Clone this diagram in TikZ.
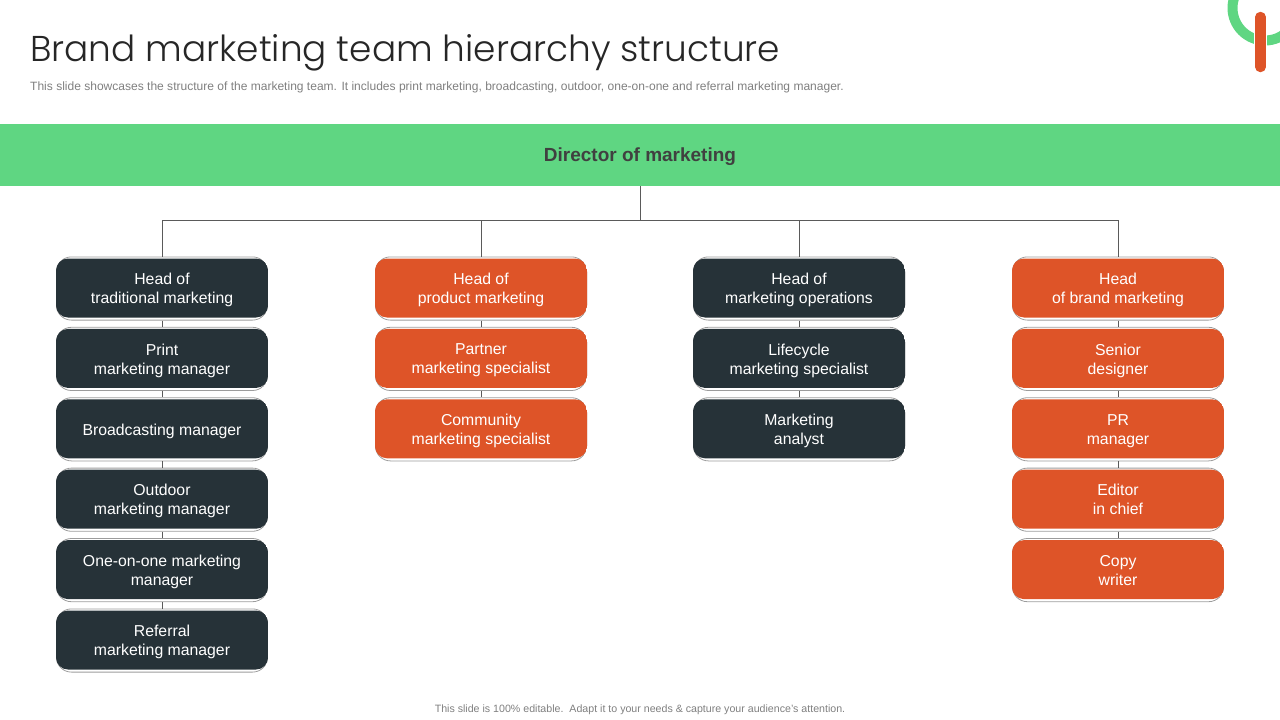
\documentclass[tikz,border=0pt]{standalone}
\usepackage{fontspec}
\setmainfont{Liberation Sans}
\newfontfamily\titlefont{Poppins Light}
\usetikzlibrary{positioning}
\definecolor{brgreen}{RGB}{95,214,130}
\definecolor{brorange}{RGB}{222,84,40}
\definecolor{brdark}{RGB}{38,50,56}
\definecolor{brtext}{RGB}{127,127,127}
\definecolor{brline}{RGB}{90,90,90}
\tikzset{
  rolebox/.style={rectangle, minimum width=212pt, minimum height=64pt, inner sep=0pt, outer sep=0pt, rounded corners=15pt, text=white, align=center, text depth=0pt, font=\fontsize{15.8}{19}\selectfont,
    path picture={
      \draw[brline!60, line width=0.8pt, rounded corners=15pt] ([shift={(0.4pt,0.4pt)}]path picture bounding box.south west) rectangle ([shift={(-0.4pt,-0.4pt)}]path picture bounding box.north east);
      \fill[#1, rounded corners=12pt] ([yshift=3pt]path picture bounding box.south west) rectangle ([yshift=-2pt]path picture bounding box.north east);
    }},
  darkrole/.style={rolebox=brdark},
  orangerole/.style={rolebox=brorange},
  link/.style={line width=0.8pt, color=brline}
}

\begin{document}
\begin{tikzpicture}[x=1pt, y=-1pt, node distance=6.4pt]
\useasboundingbox (0,0) rectangle (1280,720);
\begin{scope}
\clip (0,0) rectangle (1280,720);
% Logo
\draw[brgreen, line width=10pt] (1265,8) circle (32.5);
\draw[white, line width=13pt, line cap=round] (1260.5,17) -- (1260.5,67);
\draw[brorange, line width=10.5pt, line cap=round] (1260.5,17) -- (1260.5,67);
\end{scope}

% Heading
\node (title) [anchor=base west, inner sep=0pt, text=black!85, font=\titlefont\fontsize{35.9}{40}\selectfont] at (30,61) {Brand marketing team hierarchy structure};
\node (subtitle) [anchor=base west, inner sep=0pt, text=brtext, font=\fontsize{12.03}{14}\selectfont] at (30,90) {This slide showcases the structure of the marketing team. It includes print marketing, broadcasting, outdoor, one-on-one and referral marketing manager.};

\node (director) [rectangle, fill=brgreen, minimum width=1280pt, minimum height=62pt, inner sep=0pt, text depth=0pt, text=black!75, font=\bfseries\fontsize{19}{21}\selectfont] at (640,155) {Director of marketing};
\coordinate (bus) at (640,220);

% Traditional marketing
\node (tradA) [darkrole] at (162,288.5) {Head of\\traditional marketing};
\node (tradB) [darkrole, below=of tradA] {Print\\marketing manager};
\node (tradC) [darkrole, below=of tradB] {Broadcasting manager};
\node (tradD) [darkrole, below=of tradC] {Outdoor\\marketing manager};
\node (tradE) [darkrole, below=of tradD] {One-on-one marketing\\manager};
\node (tradF) [darkrole, below=of tradE] {Referral\\marketing manager};

% Product marketing
\node (prodA) [orangerole] at (481,288.5) {Head of\\product marketing};
\node (prodB) [orangerole, below=of prodA] {Partner\\marketing specialist};
\node (prodC) [orangerole, below=of prodB] {Community\\marketing specialist};

% Marketing operations
\node (opsA) [darkrole] at (799,288.5) {Head of\\marketing operations};
\node (opsB) [darkrole, below=of opsA] {Lifecycle\\marketing specialist};
\node (opsC) [darkrole, below=of opsB] {Marketing\\analyst};

% Brand marketing
\node (brandA) [orangerole] at (1118,288.5) {Head\\of brand marketing};
\node (brandB) [orangerole, below=of brandA] {Senior\\designer};
\node (brandC) [orangerole, below=of brandB] {PR\\manager};
\node (brandD) [orangerole, below=of brandC] {Editor\\in chief};
\node (brandE) [orangerole, below=of brandD] {Copy\\writer};

\draw[link] (director.south) -- (bus);
\draw[link] (bus) -| (tradA.north);
\draw[link] (bus) -| (prodA.north);
\draw[link] (bus) -| (opsA.north);
\draw[link] (bus) -| (brandA.north);
\draw[link] (tradA) -- (tradB);
\draw[link] (tradB) -- (tradC);
\draw[link] (tradC) -- (tradD);
\draw[link] (tradD) -- (tradE);
\draw[link] (tradE) -- (tradF);
\draw[link] (prodA) -- (prodB);
\draw[link] (prodB) -- (prodC);
\draw[link] (opsA) -- (opsB);
\draw[link] (opsB) -- (opsC);
\draw[link] (brandA) -- (brandB);
\draw[link] (brandB) -- (brandC);
\draw[link] (brandC) -- (brandD);
\draw[link] (brandD) -- (brandE);

\node (footer) [anchor=base, inner sep=0pt, text=brtext, font=\fontsize{10.63}{12}\selectfont] at (640,712) {This slide is 100\% editable.\ \ Adapt it to your needs \& capture your audience's attention.};
\end{tikzpicture}
\end{document}
